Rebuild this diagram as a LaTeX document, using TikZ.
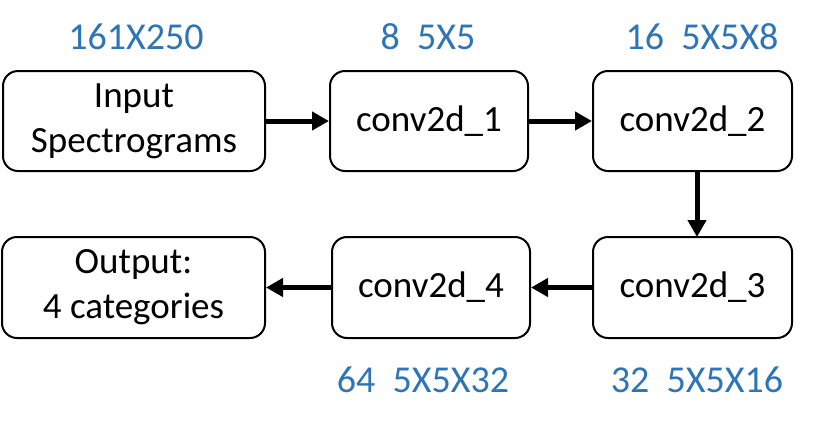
\documentclass[tikz,border=0pt]{standalone}
\usepackage{fontspec}
\setmainfont{Carlito}
\usetikzlibrary{arrows.meta}
\definecolor{lblblue}{HTML}{2E75B6}
\tikzset{
  box/.style={draw=black, line width=2pt, rounded corners=15pt, align=center,
    font=\fontsize{37}{45}\selectfont, inner sep=0pt},
  lbl/.style={text=lblblue, font=\fontsize{38}{44}\selectfont, inner sep=0pt},
  flow/.style={line width=5pt, -{Triangle[length=17pt,width=18pt]}}
}
\begin{document}
\begin{tikzpicture}[x=1pt,y=-1pt]
\useasboundingbox (0,0) rectangle (824,424);
\node[box, minimum width=262pt, minimum height=100pt] (in) at (134,121) {Input\\Spectrograms};
\node[box, minimum width=198pt, minimum height=100pt] (c1) at (429,121) {conv2d\_1};
\node[box, minimum width=199pt, minimum height=100pt] (c2) at (692.5,121) {conv2d\_2};
\node[box, minimum width=199pt, minimum height=101pt] (c3) at (692.5,287.5) {conv2d\_3};
\node[box, minimum width=198pt, minimum height=101pt] (c4) at (431,287.5) {conv2d\_4};
\node[box, minimum width=263pt, minimum height=101pt] (out) at (133.5,287.5) {Output:\\4 categories};
\node[lbl] (l0) at (136,37) {161X250};
\node[lbl] (l1) at (428,37) {8\ \ 5X5};
\node[lbl] (l2) at (702,37) {16\ \ 5X5X8};
\node[lbl] (l3) at (423,380) {64\ \ 5X5X32};
\node[lbl] (l4) at (697,380) {32\ \ 5X5X16};
\coordinate (vtop) at (697,171);
\coordinate (vbot) at (697,237);
\draw[flow] (in.east) -- (c1.west);
\draw[flow] (c1.east) -- (c2.west);
\draw[flow] (vtop) -- (vbot);
\draw[flow] (c3.west) -- (c4.east);
\draw[flow] (c4.west) -- (out.east);
\end{tikzpicture}
\end{document}
